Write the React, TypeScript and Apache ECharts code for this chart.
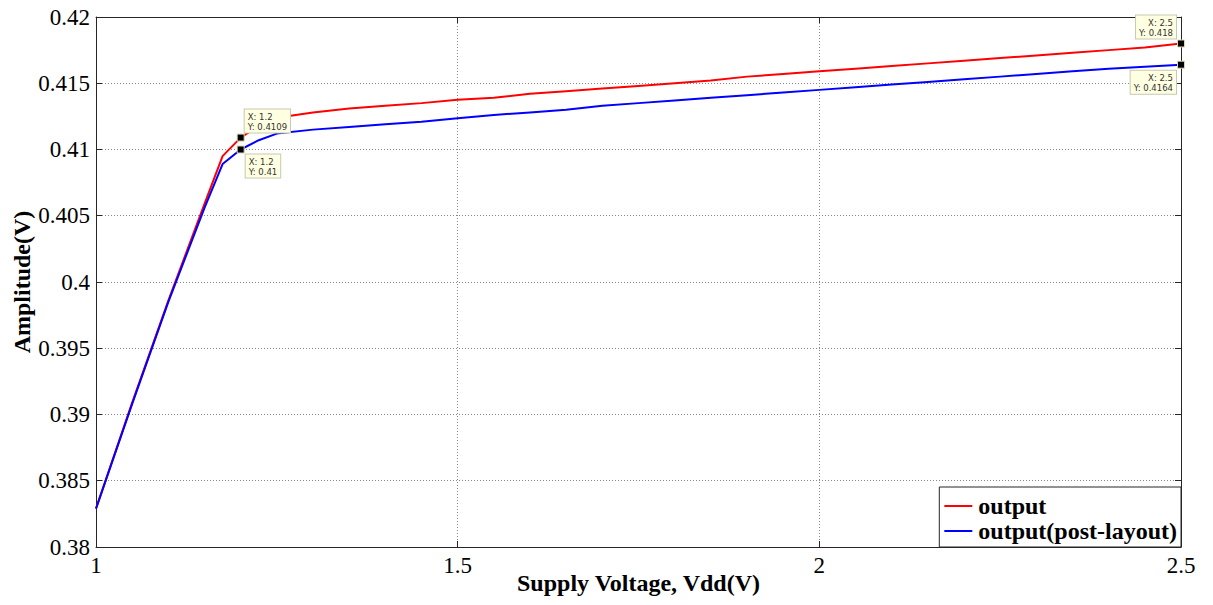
import React, { useEffect, useRef } from "react";
import * as echarts from "echarts";

const xs = [1.0, 1.05, 1.1, 1.15, 1.175, 1.2, 1.225, 1.25, 1.3, 1.35, 1.4, 1.45, 1.5, 1.55, 1.6, 1.65, 1.7, 1.75, 1.8, 1.85, 1.9, 1.95, 2.0, 2.05, 2.1, 2.15, 2.2, 2.25, 2.3, 2.35, 2.4, 2.45, 2.5];
const outputY = [0.3829, 0.3909, 0.3986, 0.4059, 0.4095, 0.4109, 0.4118, 0.4124, 0.4128, 0.4131, 0.4133, 0.4135, 0.41375, 0.4139, 0.4142, 0.4144, 0.4146, 0.4148, 0.415, 0.4152, 0.4155, 0.4157, 0.4159, 0.4161, 0.4163, 0.4165, 0.4167, 0.4169, 0.4171, 0.4173, 0.4175, 0.4177, 0.418];
const postLayoutY = [0.3829, 0.3908, 0.3985, 0.4056, 0.4089, 0.41, 0.4107, 0.4112, 0.4115, 0.4117, 0.4119, 0.4121, 0.41235, 0.4126, 0.4128, 0.413, 0.4133, 0.4135, 0.4137, 0.4139, 0.4141, 0.4143, 0.4145, 0.4147, 0.4149, 0.4151, 0.4153, 0.4155, 0.4157, 0.4159, 0.4161, 0.41625, 0.4164];
const seriesNames = ["output", "output(post-layout)"];
const outputTips = [[1.2, 0.4109], [2.5, 0.418]];
const postLayoutTips = [[1.2, 0.41], [2.5, 0.4164]];

const serif = "'Liberation Serif', 'Times New Roman', serif";
const axisColor = "#262626";

function tipPoint(p: number[], position: number[], align: string, vAlign: string) {
  return {
    coord: p,
    label: {
      position,
      align,
      verticalAlign: vAlign,
    },
  };
}

export default function App() {
  const ref = useRef<HTMLDivElement>(null);
  useEffect(() => {
    document.body.style.margin = "0";
    const chart = echarts.init(ref.current!, null, { renderer: "svg" });
    const tipLabel = {
      show: true,
      formatter: (p: any) => `X: ${p.data.coord[0]}\nY: ${p.data.coord[1]}`,
      fontFamily: "DejaVu Sans",
      fontSize: 8.5,
      lineHeight: 10,
      color: "#333",
      backgroundColor: "#ffffe1",
      borderColor: "#c8c8b4",
      borderWidth: 1,
      padding: [2, 3, 1, 3],
    };
    const tipStyle = { color: "#000", borderColor: "#d8d8b0", borderWidth: 1 };
    const xAxisBase = {
      type: "value",
      min: 1,
      max: 2.5,
      interval: 0.5,
      axisLine: { show: true, lineStyle: { color: axisColor, width: 1 } },
      axisTick: { show: true, inside: true, length: 6, lineStyle: { color: axisColor } },
    };
    const yAxisBase = {
      type: "value",
      min: 0.38,
      max: 0.42,
      interval: 0.005,
      axisLine: { show: true, lineStyle: { color: axisColor, width: 1 } },
      axisTick: { show: true, inside: true, length: 6, lineStyle: { color: axisColor } },
    };
    const fmt = (v: number) => parseFloat(v.toFixed(3)).toString();
    chart.setOption({
      animation: false,
      backgroundColor: "#fff",
      textStyle: { fontFamily: serif },
      grid: { left: 96, right: 32, top: 17, bottom: 58, containLabel: false, outerBoundsMode: "none" },
      legend: {
        data: seriesNames,
        orient: "vertical",
        right: 32,
        bottom: 58,
        backgroundColor: "#fff",
        borderColor: axisColor,
        borderWidth: 1,
        padding: [7, 4, 4, 5],
        itemGap: 1,
        itemWidth: 28,
        itemHeight: 2,
        icon: "rect",
        textStyle: { fontFamily: serif, fontWeight: "bold", fontSize: 24, color: "#000", padding: [0, 0, 0, 1] },
      },
      xAxis: [
        {
          ...xAxisBase,
          position: "bottom",
          name: "Supply Voltage, Vdd(V)",
          nameLocation: "middle",
          nameGap: 24,
          nameMoveOverlap: false,
          nameTextStyle: { fontFamily: serif, fontWeight: "bold", fontSize: 24, color: "#000" },
          axisLabel: { show: true, fontFamily: serif, fontSize: 23, color: "#000", margin: 7, formatter: fmt },
          splitLine: { show: true, lineStyle: { color: "#888", type: [1, 2], width: 1 } },
        },
        {
          ...xAxisBase,
          position: "top",
          axisLabel: { show: false },
          splitLine: { show: false },
        },
      ],
      yAxis: [
        {
          ...yAxisBase,
          position: "left",
          name: "Amplitude(V)",
          nameLocation: "middle",
          nameGap: 62,
          nameMoveOverlap: false,
          nameTextStyle: { fontFamily: serif, fontWeight: "bold", fontSize: 24, color: "#000" },
          axisLabel: { show: true, fontFamily: serif, fontSize: 23, color: "#000", margin: 6, formatter: fmt },
          splitLine: { show: true, lineStyle: { color: "#888", type: [1, 2], width: 1 } },
        },
        {
          ...yAxisBase,
          position: "right",
          axisLabel: { show: false },
          splitLine: { show: false },
        },
      ],
      series: [
        {
          name: seriesNames[0],
          type: "line",
          data: xs.map((x, i) => [x, outputY[i]]),
          showSymbol: false,
          symbol: "none",
          color: "#ff0000",
          lineStyle: { color: "#ff0000", width: 2 },
          z: 3,
          markPoint: {
            symbol: "rect",
            symbolSize: 7,
            itemStyle: tipStyle,
            label: tipLabel,
            data: [
              tipPoint(outputTips[0], [8, -1], "left", "bottom"),
              tipPoint(outputTips[1], [-1, -1], "right", "bottom"),
            ],
          },
        },
        {
          name: seriesNames[1],
          type: "line",
          data: xs.map((x, i) => [x, postLayoutY[i]]),
          showSymbol: false,
          symbol: "none",
          color: "#0000ff",
          lineStyle: { color: "#0000ff", width: 2 },
          z: 4,
          markPoint: {
            symbol: "rect",
            symbolSize: 7,
            itemStyle: tipStyle,
            label: tipLabel,
            data: [
              tipPoint(postLayoutTips[0], [9, 9], "left", "top"),
              tipPoint(postLayoutTips[1], [-1, 10], "right", "top"),
            ],
          },
        },
      ],
    });
    return () => chart.dispose();
  }, []);
  return <div ref={ref} style={{ width: 1213, height: 605 }} />;
}
